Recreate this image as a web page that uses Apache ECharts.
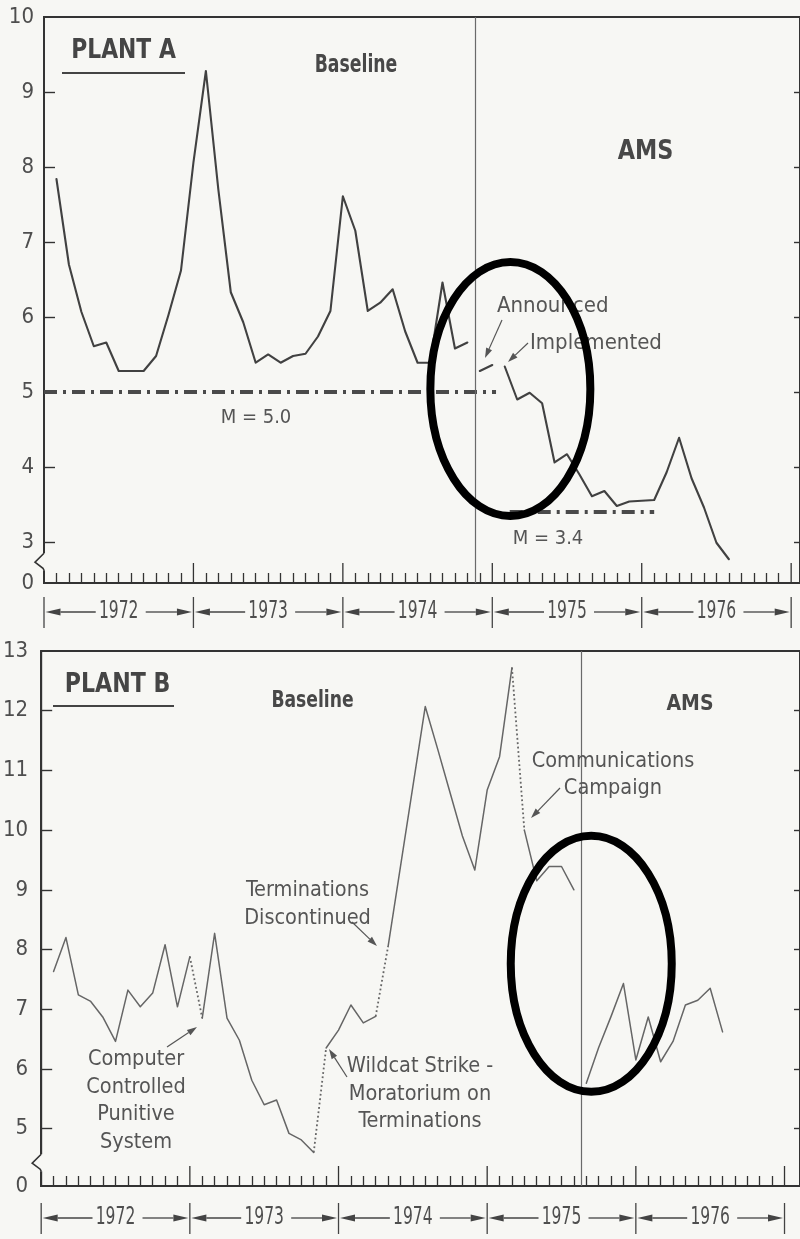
<!DOCTYPE html>
<html>
<head>
<meta charset="utf-8">
<title>Absence rates, Plant A and Plant B, 1972–1976</title>
<script src="https://cdn.jsdelivr.net/npm/echarts@6/dist/echarts.min.js"></script>
<style>
  html, body { margin: 0; padding: 0; background: #f7f7f4; }
  #chart { width: 800px; height: 1239px; }
</style>
</head>
<body>
<div id="chart"></div>
<script>
// ---------------------------------------------------------------------------
// Data. Month index: 1 = January 1972 ... 60 = December 1976.
// ---------------------------------------------------------------------------
const yearLabels = ['1972', '1973', '1974', '1975', '1976'];
const plantATicks = [3, 4, 5, 6, 7, 8, 9, 10];
const plantBTicks = [5, 6, 7, 8, 9, 10, 11, 12, 13];

// Plant A
const plantABaselineStart = 1;
const plantABaseline = [7.84, 6.70, 6.07, 5.61, 5.66, 5.28, 5.28, 5.28, 5.48, 6.03, 6.62, 8.06,
                        9.28, 7.70, 6.33, 5.93, 5.39, 5.50, 5.39, 5.48, 5.51, 5.74, 6.08, 7.61,
                        7.15, 6.08, 6.19, 6.37, 5.81, 5.39, 5.39, 6.46, 5.58, 5.66];
const plantAAnnouncedStart = 35;
const plantAAnnounced = [5.28, 5.36];
const plantAAmsStart = 37;
const plantAAms = [5.34, 4.90, 4.99, 4.85, 4.06, 4.17, 3.90, 3.61, 3.68, 3.48, 3.54, 3.55,
                   3.56, 3.93, 4.39, 3.85, 3.46, 2.99, 2.77];
const plantAMeans = [5.0, 3.4];
const plantAMeanSpans = [[0, 36.3], [37.4, 49.0]];
const plantAPhaseChange = 34.64;

// Plant B
const plantBBaselineStart = 1;
const plantBBaseline = [7.63, 8.20, 7.24, 7.13, 6.86, 6.46, 7.32, 7.04, 7.27, 8.08, 7.04, 7.88,
                        6.85, 8.27, 6.85, 6.48, 5.81, 5.40, 5.48, 4.92, 4.81, 4.60, 6.35, 6.65,
                        7.07, 6.77, 6.88, 8.05, 9.39, 10.73, 12.07, 11.36, 10.63, 9.90, 9.33, 10.67,
                        11.23, 12.72, 10.00, 9.15, 9.39, 9.39, 9.00];
const plantBBridgedAfter = [12, 22, 27, 38];   // gaps bridged by a dotted link
const plantBAmsStart = 44;
const plantBAms = [5.76, 6.36, 6.88, 7.43, 6.15, 6.87, 6.12, 6.46, 7.07, 7.15, 7.35, 6.62];
const plantBPhaseChange = 43.58;

// ---------------------------------------------------------------------------
// Styling
// ---------------------------------------------------------------------------
const BG = '#f7f7f4';
const AXIS = '#333333';
const NUM_FONT = "'DejaVu Sans Condensed', 'Liberation Sans Narrow', sans-serif";
const NOTE_FONT = "'DejaVu Sans Condensed', 'Liberation Sans Narrow', sans-serif";
const TITLE_FONT = "'DejaVu Sans Condensed', 'Liberation Sans Narrow', sans-serif";
const A_MIN = 2.4533, A_MAX = 10, B_MIN = 4.0385, B_MAX = 13;
const A_XMAX = 60.71, B_XMAX = 61.25;

const monthTicks = Array.from({ length: 60 }, (_, i) => i + 1).filter(m => m % 12 !== 0);

function xAxis(grid, max) {
  return {
    type: 'value', gridIndex: grid, min: 0, max, position: 'bottom',
    axisLine: { show: true, onZero: false, lineStyle: { color: AXIS, width: 2 } },
    axisTick: { show: true, inside: true, length: 10, customValues: monthTicks,
                lineStyle: { color: AXIS, width: 1.3 } },
    axisLabel: { show: false }, splitLine: { show: false }
  };
}
function yAxisLeft(grid, min, max, ticks, margin) {
  return {
    type: 'value', gridIndex: grid, min, max, position: 'left',
    axisLine: { show: true, onZero: false, lineStyle: { color: AXIS, width: 2 } },
    axisTick: { show: true, inside: true, length: 11, customValues: ticks.filter(t => t < max),
                lineStyle: { color: AXIS, width: 1.4 } },
    axisLabel: { show: true, customValues: [min].concat(ticks),
                 formatter: v => (v < ticks[0] ? '0' : String(Math.round(v))),
                 margin, color: '#4e4e4e', fontFamily: NUM_FONT, fontSize: 22 },
    splitLine: { show: false }
  };
}
function yAxisRight(grid, min, max, ticks) {
  return {
    type: 'value', gridIndex: grid, min, max, position: 'right',
    axisLine: { show: true, onZero: false, lineStyle: { color: AXIS, width: 2 } },
    axisTick: { show: true, inside: true, length: 6, customValues: ticks.filter(t => t < max),
                lineStyle: { color: AXIS, width: 1.4 } },
    axisLabel: { show: false }, splitLine: { show: false }
  };
}

const pairs = (start, vals) => vals.map((v, i) => [start + i, v]);

function lineSeries(data, xi, yi, style, extra) {
  return Object.assign({
    type: 'line', xAxisIndex: xi, yAxisIndex: yi, data,
    symbol: 'none', showSymbol: false, silent: true, animation: false, z: 3,
    lineStyle: Object.assign({ cap: 'round', join: 'round' }, style)
  }, extra || {});
}
const divider = value => ({
  silent: true, symbol: ['none', 'none'], animation: false,
  label: { show: false },
  lineStyle: { type: 'solid', color: '#6a6a6a', width: 1.2 },
  data: [{ xAxis: value }]
});

const styleA = { color: '#414141', width: 2.1 };
const styleB = { color: '#666666', width: 1.5 };
const styleBDots = { color: '#666666', width: 1.8, type: [1.8, 2.6], cap: 'butt' };
const styleMean = { color: '#4a4a4a', width: 4, type: [13, 6, 3, 6], cap: 'butt' };

// Plant A series
const series = [];
series.push(lineSeries(pairs(plantABaselineStart, plantABaseline), 0, 0, styleA,
                       { markLine: divider(plantAPhaseChange) }));
series.push(lineSeries(pairs(plantAAnnouncedStart, plantAAnnounced), 0, 0, styleA));
series.push(lineSeries(pairs(plantAAmsStart, plantAAms), 0, 0, styleA));
plantAMeans.forEach((m, i) => {
  series.push(lineSeries(plantAMeanSpans[i].map(t => [t, m]), 0, 0, styleMean));
});

// Plant B series: solid runs split at the bridged gaps, dotted links between them
const bIndex = series.length;
const bPts = pairs(plantBBaselineStart, plantBBaseline);
let run = [];
const runs = [];
bPts.forEach(p => {
  run.push(p);
  if (plantBBridgedAfter.includes(p[0])) { runs.push(run); run = []; }
});
if (run.length) runs.push(run);
runs.forEach((r, i) => {
  series.push(lineSeries(r, 1, 2, styleB, i === 0 ? { markLine: divider(plantBPhaseChange) } : {}));
});
plantBBridgedAfter.forEach(m => {
  const a = bPts.find(p => p[0] === m), b = bPts.find(p => p[0] === m + 1);
  series.push(lineSeries([a, b], 1, 2, styleBDots));
});
series.push(lineSeries(pairs(plantBAmsStart, plantBAms), 1, 2, styleB));

const option = {
  backgroundColor: BG,
  animation: false,
  grid: [
    { left: 44, top: 17, width: 757, height: 566, show: true, borderColor: AXIS, borderWidth: 2,
      backgroundColor: 'transparent' },
    { left: 36, top: 651, width: 765, height: 535, show: true, borderColor: AXIS, borderWidth: 2,
      backgroundColor: 'transparent' }
  ],
  xAxis: [xAxis(0, A_XMAX), xAxis(1, B_XMAX)],
  yAxis: [
    yAxisLeft(0, A_MIN, A_MAX, plantATicks, 10),
    yAxisRight(0, A_MIN, A_MAX, plantATicks),
    yAxisLeft(1, B_MIN, B_MAX, plantBTicks, 13),
    yAxisRight(1, B_MIN, B_MAX, plantBTicks)
  ],
  series
};

const chart = echarts.init(document.getElementById('chart'), null, { renderer: 'canvas' });
chart.setOption(option);

// ---------------------------------------------------------------------------
// Decorations: year row, axis breaks, headings, notes, arrows, focus rings
// ---------------------------------------------------------------------------
const toA = (t, v) => chart.convertToPixel({ seriesIndex: 0 }, [t, v]);
const toB = (t, v) => chart.convertToPixel({ seriesIndex: bIndex }, [t, v]);
const g = [];

const seg = (x1, y1, x2, y2, color, w) => ({
  type: 'line', z: 20, silent: true,
  shape: { x1, y1, x2, y2 }, style: { stroke: color || '#444', lineWidth: w || 1.3 }
});
const txt = (str, x, y, font, extra, scaleX) => ({
  type: 'text', z: 20, silent: true, x, y, scaleX: scaleX || 1,
  style: Object.assign({ text: str, fill: '#555', font, align: 'center', verticalAlign: 'middle' }, extra || {})
});
function arrow(x1, y1, x2, y2, len, half, color, w) {
  const ang = Math.atan2(y2 - y1, x2 - x1);
  const bx = x2 - len * Math.cos(ang), by = y2 - len * Math.sin(ang);
  const nx = -Math.sin(ang) * half, ny = Math.cos(ang) * half;
  return [
    seg(x1, y1, bx, by, color, w),
    { type: 'polygon', z: 20, silent: true,
      shape: { points: [[x2, y2], [bx + nx, by + ny], [bx - nx, by - ny]] },
      style: { fill: color || '#444' } }
  ];
}

function yearRow(toPx, yMin, offset) {
  const axisY = toPx(0, yMin)[1];
  const cy = axisY + offset;
  yearLabels.forEach((label, i) => {
    const x0 = toPx(i * 12, yMin)[0];
    const x1 = toPx((i + 1) * 12, yMin)[0];
    const mid = (x0 + x1) / 2;
    // tall tick marking the year boundary on the axis
    g.push(seg(x1, axisY, x1, axisY - 20, AXIS, 1.3));
    g.push(seg(x0, cy - 15, x0, cy + 16, '#444', 1.3));
    if (i === yearLabels.length - 1) g.push(seg(x1, cy - 15, x1, cy + 16, '#444', 1.3));
    g.push(txt(label, mid, cy, `24px ${NUM_FONT}`, { fill: '#4e4e4e' }, 0.72));
    g.push(...arrow(mid - 23, cy, x0 + 1.5, cy, 15, 3.4, '#444', 1.3));
    g.push(...arrow(mid + 27, cy, x1 - 1.5, cy, 15, 3.4, '#444', 1.3));
  });
}
yearRow(toA, A_MIN, 29);
yearRow(toB, B_MIN, 32);

function axisBreak(toPx, v) {
  const [x, y] = toPx(0, v);
  g.push(seg(x, y - 9, x, y + 8, BG, 4));
  g.push({ type: 'polyline', z: 21, silent: true,
           shape: { points: [[x, y - 9], [x - 9, y], [x - 1, y + 6], [x, y + 8]] },
           style: { stroke: AXIS, lineWidth: 1.6, fill: null } });
}
axisBreak(toA, 2.73);
axisBreak(toB, 4.42);

// Headings
const bold = size => `bold ${size}px ${TITLE_FONT}`;
g.push(txt('PLANT A', 123.5, 51, bold(27), { fill: '#454545' }, 0.9));
g.push(seg(62, 73, 185, 73, '#444', 2));
g.push(txt('Baseline', 356, 66, bold(24), { fill: '#484848' }, 0.8));
g.push(txt('AMS', 645.5, 152, bold(27), { fill: '#484848' }, 0.92));
g.push(txt('PLANT B', 117.5, 685, bold(27), { fill: '#454545' }, 0.91));
g.push(seg(53, 706, 174, 706, '#444', 2));
g.push(txt('Baseline', 312.5, 701.5, bold(23), { fill: '#484848' }, 0.83));
g.push(txt('AMS', 690, 704.5, bold(21), { fill: '#484848' }));

// Notes
const note = `21.5px ${NOTE_FONT}`;
const noteWide = `22px ${NOTE_FONT}`;
g.push(txt('M = 5.0', 256, 417.5, `20px ${NOTE_FONT}`));
g.push(txt('M = 3.4', 548, 538.5, `20px ${NOTE_FONT}`));
g.push(txt('Announced', 497, 306.5, noteWide, { align: 'left' }));
g.push(txt('Implemented', 530, 343.5, noteWide, { align: 'left' }));
g.push(txt('Terminations\nDiscontinued', 307.5, 904.5, note, { lineHeight: 28 }));
g.push(txt('Computer\nControlled\nPunitive\nSystem', 136, 1101, note, { lineHeight: 27.7 }));
g.push(txt('Wildcat Strike -\nMoratorium on\nTerminations', 420, 1094, note, { lineHeight: 27.5 }));
g.push(txt('Communications\nCampaign', 613, 775, note, { lineHeight: 27.5 }));

// Pointer arrows for the notes
g.push(...arrow(502, 320, 485, 358, 10, 3.2, '#555', 1.2));
g.push(...arrow(528, 343, 508, 362, 10, 3.2, '#555', 1.2));
g.push(...arrow(352, 922, 377, 946, 10, 3.2, '#555', 1.2));
g.push(...arrow(167, 1047, 197, 1027, 10, 3.2, '#555', 1.2));
g.push(...arrow(347, 1077, 329, 1049, 10, 3.2, '#555', 1.2));
g.push(...arrow(560, 788, 531, 818, 10, 3.2, '#555', 1.2));

// Focus rings around the changeover periods (centre given in month/value)
function ring(toPx, t, v, rx, ry) {
  const [cx, cy] = toPx(t, v);
  g.push({ type: 'ellipse', z: 30, silent: true, shape: { cx, cy, rx, ry },
           style: { fill: null, stroke: '#000', lineWidth: 8 } });
}
ring(toA, 37.45, 5.04, 80, 127);
ring(toB, 44.4, 7.76, 80.5, 128);

chart.setOption({ graphic: { elements: g } });
</script>
</body>
</html>
